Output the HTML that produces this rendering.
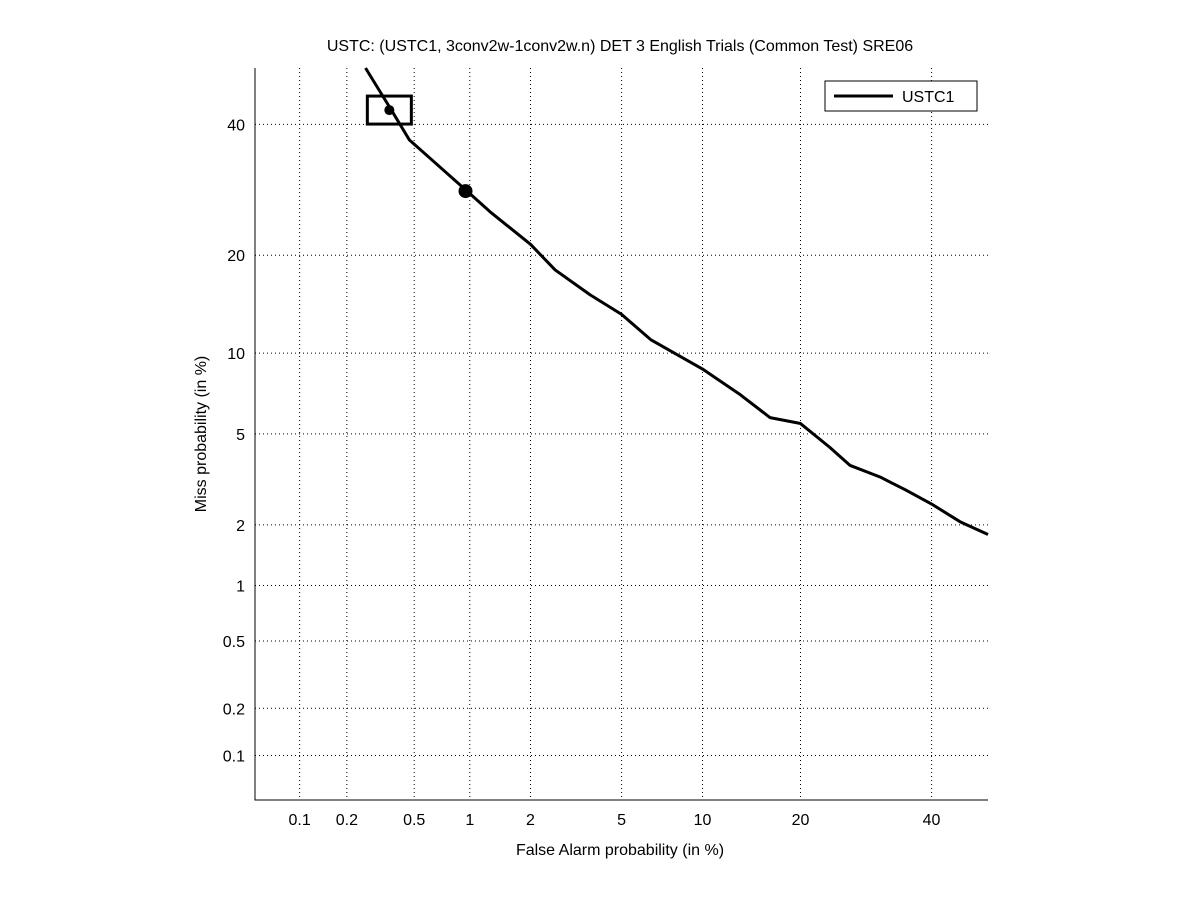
<!DOCTYPE html>
<html><head><meta charset="utf-8"><style>
body{margin:0;background:#fff;}
svg text{font-family:"Liberation Sans",sans-serif;font-size:16px;fill:#000;}
</style></head><body>
<svg id="c" width="1201" height="900">
<rect width="1201" height="900" fill="#fff"/>
</svg>
<script>
const xTicks=[0.1,0.2,0.5,1,2,5,10,20,40];
const yTicks=[0.1,0.2,0.5,1,2,5,10,20,40];
const faValues=[0.26,0.37,0.47,0.61,0.95,1.27,2,2.6,3.7,5,6.5,10,13.3,16.4,20,23.9,26.8,31.4,35.5,40,45,50];
const missValues=[50,42.5,37.3,34.3,29.2,25.9,21.4,18.2,15.4,13.4,11.1,8.8,7.1,5.8,5.5,4.4,3.7,3.3,2.9,2.5,2.07,1.8];
const actPoint=[0.36,42.5];
const minPoint=[0.95,29.0];
function probit(p){
 const a=[-39.69683028665376,220.9460984245205,-275.9285104469687,138.357751867269,-30.66479806614716,2.506628277459239];
 const b=[-54.47609879822406,161.5858368580409,-155.6989798598866,66.80131188771972,-13.28068155288572];
 const c=[-0.007784894002430293,-0.3223964580411365,-2.400758277161838,-2.549732539343734,4.374664141464968,2.938163982698783];
 const d=[0.007784695709041462,0.3224671290700398,2.445134137142996,3.754408661907416];
 if(p<0.02425){const q=Math.sqrt(-2*Math.log(p));return (((((c[0]*q+c[1])*q+c[2])*q+c[3])*q+c[4])*q+c[5])/((((d[0]*q+d[1])*q+d[2])*q+d[3])*q+1);}
 if(p>1-0.02425){return -probit(1-p);}
 const q=p-0.5,r=q*q;
 return (((((a[0]*r+a[1])*r+a[2])*r+a[3])*r+a[4])*r+a[5])*q/(((((b[0]*r+b[1])*r+b[2])*r+b[3])*r+b[4])*r+1);
}
const L=255,R=988,T=68,B=800,lo=probit(0.0005),hi=0;
const X=v=>L+(probit(v/100)-lo)/(hi-lo)*(R-L);
const Y=v=>B-(probit(v/100)-lo)/(hi-lo)*(B-T);
const svg=document.getElementById('c');const NS='http://www.w3.org/2000/svg';
function mk(t,at,p){const e=document.createElementNS(NS,t);for(const k in at)e.setAttribute(k,at[k]);(p||svg).appendChild(e);return e;}
xTicks.forEach(v=>{const x=X(v);
 const g=mk('line',{x1:x,x2:x,y1:T,y2:B,stroke:'#000','stroke-dasharray':'1,3'});
 
 
 const t=mk('text',{x:x,y:825,'text-anchor':'middle'});t.textContent=v;
 
 
});
yTicks.forEach(v=>{const y=Y(v);
 const g=mk('line',{x1:L,x2:R,y1:y,y2:y,stroke:'#000','stroke-dasharray':'1,3'});
 
 
 const t=mk('text',{x:245,y:y+6,'text-anchor':'end'});t.textContent=v;
 
 
});
const ax=mk('path',{d:`M${L},${T} V${B} H${R}`,stroke:'#000',fill:'none'});


const pts=faValues.map((f,i)=>X(f)+','+Y(missValues[i])).join(' ');
const line=mk('polyline',{points:pts,fill:'none',stroke:'#000','stroke-width':3,'stroke-linejoin':'round'});


const bx=mk('rect',{x:X(actPoint[0])-22,y:Y(actPoint[1])-14,width:44,height:28,fill:'none',stroke:'#000','stroke-width':3});


const dm=mk('circle',{cx:X(actPoint[0]),cy:Y(actPoint[1]),r:5,fill:'#000'});


const ci=mk('circle',{cx:X(minPoint[0]),cy:Y(minPoint[1]),r:6,fill:'#000',stroke:'#000','stroke-width':2});


</script>
<svg style="position:absolute;left:0;top:0" width="1201" height="900">
<text x="620" y="51" text-anchor="middle" style="font-family:'Liberation Sans',sans-serif;font-size:16px">USTC: (USTC1, 3conv2w-1conv2w.n) DET 3 English Trials (Common Test) SRE06</text>
<text x="620" y="855" text-anchor="middle" style="font-family:'Liberation Sans',sans-serif;font-size:16px">False Alarm probability (in %)</text>
<text transform="translate(206,434) rotate(-90)" text-anchor="middle" style="font-family:'Liberation Sans',sans-serif;font-size:16px">Miss probability (in %)</text>
<g>
<rect x="825" y="81" width="152" height="30" fill="#fff" stroke="#000"/>
<line x1="834" y1="96" x2="893" y2="96" stroke="#000" stroke-width="3"/>
<text x="902" y="102" style="font-family:'Liberation Sans',sans-serif;font-size:16px">USTC1</text>
</g>
</svg>
</body></html>
